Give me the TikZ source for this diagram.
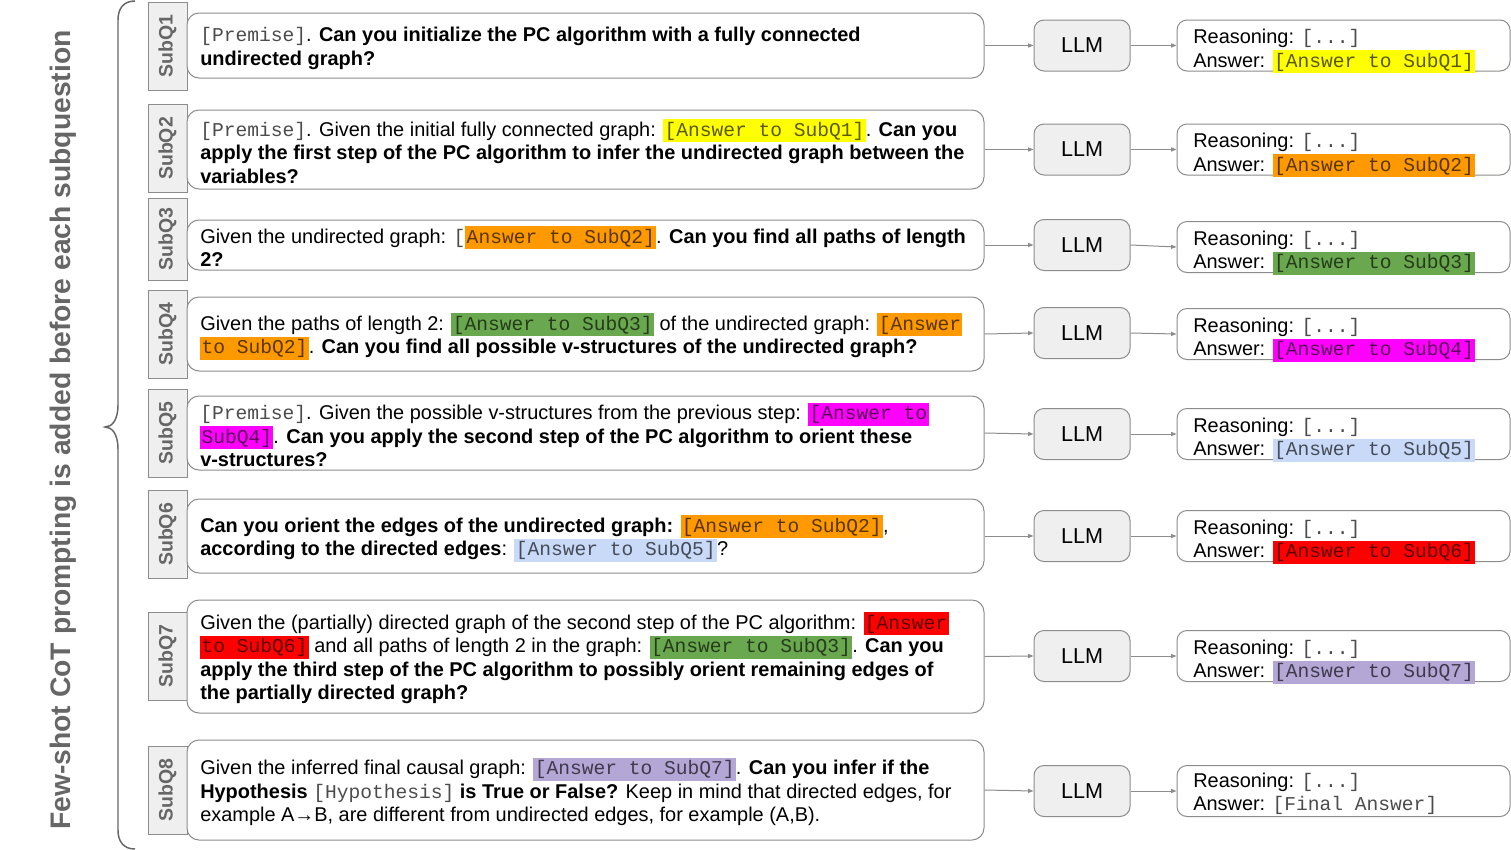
\documentclass[tikz,border=0pt]{standalone}
\usepackage{fontspec}
\setmainfont{Liberation Sans}
\setmonofont[Scale=0.983]{Liberation Mono}
\usetikzlibrary{arrows.meta}
\definecolor{hlyellow}{HTML}{FFFF00}
\definecolor{hlorange}{HTML}{FF9900}
\definecolor{hlgreen}{HTML}{6AA84F}
\definecolor{hlmagenta}{HTML}{FF00FF}
\definecolor{hlblue}{HTML}{C9DAF8}
\definecolor{hlred}{HTML}{FF0000}
\definecolor{hlpurple}{HTML}{B4A7D6}
\definecolor{boxgray}{HTML}{EFEFEF}
\definecolor{linegray}{HTML}{8C8C8C}
\definecolor{labgray}{HTML}{666666}
\newcommand\hlt[2]{{\setlength\fboxsep{0pt}\smash{\colorbox{#1}{\kern1pt\rule[-4.5pt]{0pt}{17.25pt}\color{#1!35!black}\ttfamily #2\kern1pt}}}}
\newcommand\mono[1]{{\color{black!70}\ttfamily #1}}
\tikzset{
  tab/.style={draw=linegray, fill=boxgray, line width=0.75pt, minimum width=39*0.75pt, minimum height=88*0.75pt, inner sep=0pt, text=labgray, font=\fontsize{14.6pt}{17pt}\selectfont\bfseries},
  qbox/.style={draw=linegray, fill=white, line width=0.75pt, rounded corners=9pt, minimum width=797*0.75pt, inner sep=0pt},
  qtext/.style={anchor=west, align=left, inner sep=0pt, yshift=-2.25pt, font=\fontsize{14.95pt}{17.6pt}\selectfont},
  llm/.style={draw=linegray, fill=boxgray, line width=0.75pt, rounded corners=7.5pt, minimum width=96*0.75pt, minimum height=51*0.75pt, inner sep=0pt, font=\fontsize{16.2pt}{19pt}\selectfont},
  abox/.style={draw=linegray, fill=white, line width=0.75pt, rounded corners=7.5pt, minimum width=333*0.75pt, minimum height=51*0.75pt, inner sep=0pt},
  arr/.style={draw=linegray, line width=0.75pt, -{Triangle[length=4pt,width=3pt]}},
  brace/.style={draw=black!60, line width=1.1pt},
}
\begin{document}
\begin{tikzpicture}[x=0.75pt,y=-0.75pt]
\path[use as bounding box] (0,0) rectangle (1511,850);
% side label and brace
\node[rotate=90, inner sep=0pt, text=labgray, font=\fontsize{21.2pt}{25pt}\selectfont\bfseries] (lab) at (63,430) {Few-shot CoT prompting is added before each subquestion};
\draw[brace] (135,1) .. controls (124,1) and (118,8) .. (118,20) -- (118,405) .. controls (118,420) and (112,427) .. (105,427) .. controls (112,427) and (118,434) .. (118,449) -- (118,830) .. controls (118,842) and (124,849) .. (135,849);

% tabs
\node[tab] (t1) at (167.5,46) {\rotatebox{90}{SubQ1}};
\node[tab] (t2) at (167.5,148.5) {\rotatebox{90}{SubQ2}};
\node[tab, minimum height=82*0.75pt] (t3) at (167.5,239) {\rotatebox{90}{SubQ3}};
\node[tab] (t4) at (167.5,334) {\rotatebox{90}{SubQ4}};
\node[tab] (t5) at (167.5,433) {\rotatebox{90}{SubQ5}};
\node[tab] (t6) at (167.5,534.5) {\rotatebox{90}{SubQ6}};
\node[tab] (t7) at (167.5,656) {\rotatebox{90}{SubQ7}};
\node[tab] (t8) at (167.5,790) {\rotatebox{90}{SubQ8}};

% question boxes
\node[qbox, minimum height=65*0.75pt] (q1) at (585.5,45.5) {};
\node[qbox, minimum height=79*0.75pt] (q2) at (585.5,149.5) {};
\node[qbox, minimum height=50*0.75pt] (q3) at (585.5,245) {};
\node[qbox, minimum height=74*0.75pt] (q4) at (585.5,334) {};
\node[qbox, minimum height=74*0.75pt] (q5) at (585.5,433) {};
\node[qbox, minimum height=74*0.75pt] (q6) at (585.5,536) {};
\node[qbox, minimum height=113*0.75pt] (q7) at (585.5,656.5) {};
\node[qbox, minimum height=100*0.75pt] (q8) at (585.5,790) {};

\node[qtext] (q1t) at (200,45.5) {\mono{[Premise]}. \textbf{Can you initialize the PC algorithm with a fully connected}\\\textbf{undirected graph?}};
\node[qtext] (q2t) at (200,149.5) {\mono{[Premise]}. Given the initial fully connected graph: \hlt{hlyellow}{[Answer to SubQ1]}. \textbf{Can you}\\\textbf{apply the first step of the PC algorithm to infer the undirected graph between the}\\\textbf{variables?}};
\node[qtext] (q3t) at (200,245) {Given the undirected graph: \mono{[}\hlt{hlorange}{Answer to SubQ2]}. \textbf{Can you find all paths of length}\\\textbf{2?}};
\node[qtext] (q4t) at (200,334) {Given the paths of length 2: \hlt{hlgreen}{[Answer to SubQ3]} of the undirected graph: \hlt{hlorange}{[Answer}\\\hlt{hlorange}{to SubQ2]}. \textbf{Can you find all possible v-structures of the undirected graph?}};
\node[qtext] (q5t) at (200,433) {\mono{[Premise]}. Given the possible v-structures from the previous step: \hlt{hlmagenta}{[Answer to}\\\hlt{hlmagenta}{SubQ4]}. \textbf{Can you apply the second step of the PC algorithm to orient these}\\\textbf{v-structures?}};
\node[qtext] (q6t) at (200,536) {\textbf{Can you orient the edges of the undirected graph:} \hlt{hlorange}{[Answer to SubQ2]},\\\textbf{according to the directed edges}: \hlt{hlblue}{[Answer to SubQ5]}?};
\node[qtext] (q7t) at (200,656.5) {Given the (partially) directed graph of the second step of the PC algorithm: \hlt{hlred}{[Answer}\\\hlt{hlred}{to SubQ6]} and all paths of length 2 in the graph: \hlt{hlgreen}{[Answer to SubQ3]}. \textbf{Can you}\\\textbf{apply the third step of the PC algorithm to possibly orient remaining edges of}\\\textbf{the partially directed graph?}};
\node[qtext] (q8t) at (200,790) {Given the inferred final causal graph: \hlt{hlpurple}{[Answer to SubQ7]}. \textbf{Can you infer if the}\\\textbf{Hypothesis} \mono{[Hypothesis]} \textbf{is True or False?} Keep in mind that directed edges, for\\example A→B, are different from undirected edges, for example (A,B).};

% LLM boxes
\node[llm] (l1) at (1082,45.5) {LLM};
\node[llm] (l2) at (1082,149.5) {LLM};
\node[llm] (l3) at (1082,245) {LLM};
\node[llm] (l4) at (1082,333) {LLM};
\node[llm] (l5) at (1082,434) {LLM};
\node[llm] (l6) at (1082,536) {LLM};
\node[llm] (l7) at (1082,656) {LLM};
\node[llm] (l8) at (1082,791) {LLM};

% answer boxes
\node[abox] (a1) at (1343.5,45.5) {};
\node[abox] (a2) at (1343.5,149.5) {};
\node[abox] (a3) at (1343.5,247) {};
\node[abox] (a4) at (1343.5,334) {};
\node[abox] (a5) at (1343.5,434) {};
\node[abox] (a6) at (1343.5,536) {};
\node[abox] (a7) at (1343.5,656) {};
\node[abox] (a8) at (1343.5,791) {};

\node[qtext] (a1t) at (1193,45.5) {Reasoning: \mono{[...]}\\Answer: \hlt{hlyellow}{[Answer to SubQ1]}};
\node[qtext] (a2t) at (1193,149.5) {Reasoning: \mono{[...]}\\Answer: \hlt{hlorange}{[Answer to SubQ2]}};
\node[qtext] (a3t) at (1193,247) {Reasoning: \mono{[...]}\\Answer: \hlt{hlgreen}{[Answer to SubQ3]}};
\node[qtext] (a4t) at (1193,334) {Reasoning: \mono{[...]}\\Answer: \hlt{hlmagenta}{[Answer to SubQ4]}};
\node[qtext] (a5t) at (1193,434) {Reasoning: \mono{[...]}\\Answer: \hlt{hlblue}{[Answer to SubQ5]}};
\node[qtext] (a6t) at (1193,536) {Reasoning: \mono{[...]}\\Answer: \hlt{hlred}{[Answer to SubQ6]}};
\node[qtext] (a7t) at (1193,656) {Reasoning: \mono{[...]}\\Answer: \hlt{hlpurple}{[Answer to SubQ7]}};
\node[qtext] (a8t) at (1193,791) {Reasoning: \mono{[...]}\\Answer: \mono{[Final Answer]}};

% connectors
\foreach \i in {1,...,8}{
  \draw[arr] (q\i.east) -- (l\i.west);
  \draw[arr] (l\i.east) -- (a\i.west);
}
\end{tikzpicture}
\end{document}
